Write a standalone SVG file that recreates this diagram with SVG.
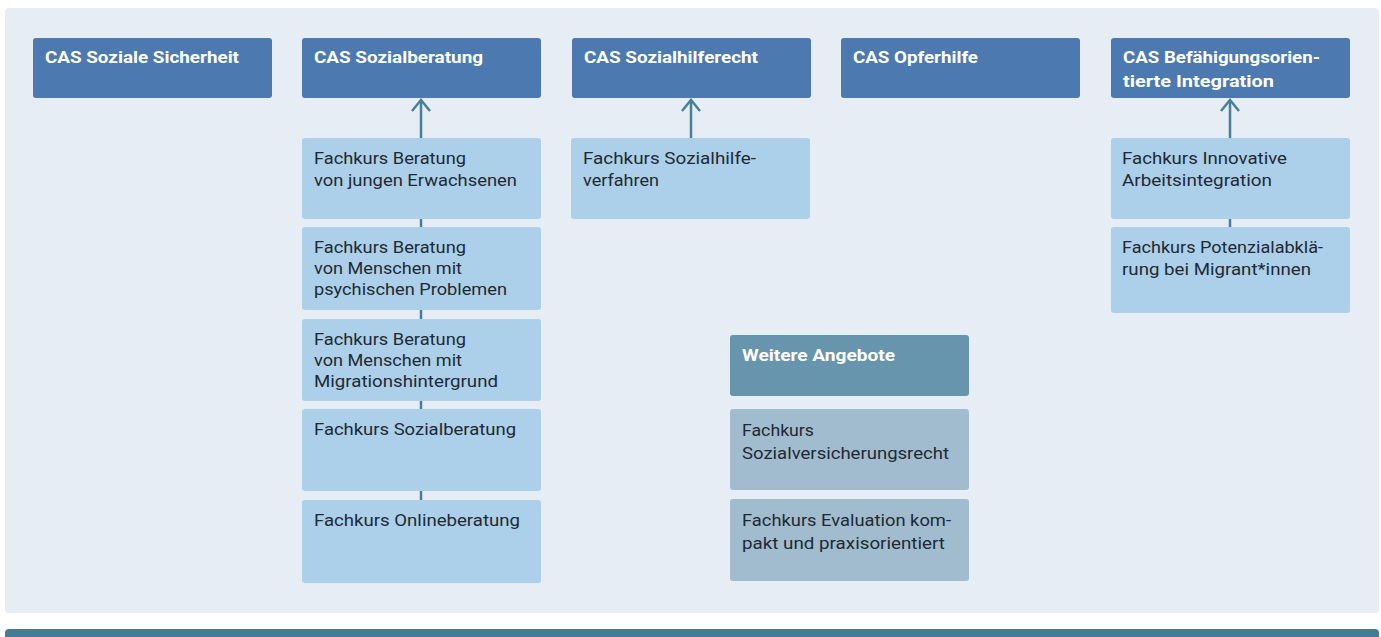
<svg xmlns="http://www.w3.org/2000/svg" width="1381" height="637" viewBox="0 0 1381 637">
<defs>
<style>
.panel{fill:#e6edf5}
.bar{fill:#467b94}
.cas{fill:#4c79b0}
.kurs{fill:#accfea}
.wh{fill:#6795ae}
.wk{fill:#a1bccf}
.ht{font-family:Roboto,"Noto Sans",sans-serif;font-size:17px;font-weight:bold;fill:#ffffff}
.kt{font-family:Roboto,"Noto Sans",sans-serif;font-size:17px;fill:#1f2a33}
.con{stroke:#47809a;stroke-width:2.5;fill:none}
</style>
<marker id="chev" viewBox="-12 -11 14 22" refX="0" refY="0" markerWidth="14" markerHeight="22" markerUnits="userSpaceOnUse" orient="auto">
<path d="M-11,-9 L0,0 L-11,9" fill="none" stroke="#47809a" stroke-width="2.5"/>
</marker>
</defs>
<rect class="panel" x="5" y="8" width="1374" height="605" rx="4"/>
<rect class="bar" x="5" y="629" width="1374" height="12" rx="4"/>

<g id="connectors">
<line class="con" x1="421" y1="138" x2="421" y2="100" marker-end="url(#chev)"/>
<line class="con" x1="691" y1="138" x2="691" y2="100" marker-end="url(#chev)"/>
<line class="con" x1="1230" y1="138" x2="1230" y2="100" marker-end="url(#chev)"/>
<line class="con" x1="421" y1="219" x2="421" y2="227"/>
<line class="con" x1="421" y1="310" x2="421" y2="319"/>
<line class="con" x1="421" y1="401" x2="421" y2="409"/>
<line class="con" x1="421" y1="491" x2="421" y2="500"/>
<line class="con" x1="1230" y1="219" x2="1230" y2="227"/>
</g>

<g id="cas-soziale-sicherheit">
<rect class="cas" x="33" y="38" width="239" height="60" rx="3"/>
<text class="ht" x="45" y="62.7" textLength="194" lengthAdjust="spacingAndGlyphs">CAS Soziale Sicherheit</text>
</g>
<g id="cas-sozialberatung">
<rect class="cas" x="302" y="38" width="239" height="60" rx="3"/>
<text class="ht" x="314" y="62.7" textLength="169" lengthAdjust="spacingAndGlyphs">CAS Sozialberatung</text>
</g>
<g id="cas-sozialhilferecht">
<rect class="cas" x="572" y="38" width="239" height="60" rx="3"/>
<text class="ht" x="584" y="62.7" textLength="174" lengthAdjust="spacingAndGlyphs">CAS Sozialhilferecht</text>
</g>
<g id="cas-opferhilfe">
<rect class="cas" x="841" y="38" width="239" height="60" rx="3"/>
<text class="ht" x="853" y="62.7" textLength="125" lengthAdjust="spacingAndGlyphs">CAS Opferhilfe</text>
</g>
<g id="cas-befaehigung">
<rect class="cas" x="1111" y="38" width="239" height="60" rx="3"/>
<text class="ht" x="1123" y="62.7" textLength="197" lengthAdjust="spacingAndGlyphs">CAS Befähigungsorien-</text>
<text class="ht" x="1123" y="86.7" textLength="151" lengthAdjust="spacingAndGlyphs">tierte Integration</text>
</g>

<g id="fk-junge-erwachsene">
<rect class="kurs" x="302" y="138" width="239" height="81" rx="3"/>
<text class="kt" x="314" y="164" textLength="152" lengthAdjust="spacingAndGlyphs">Fachkurs Beratung</text>
<text class="kt" x="314" y="185.5" textLength="203" lengthAdjust="spacingAndGlyphs">von jungen Erwachsenen</text>
</g>
<g id="fk-psychische-probleme">
<rect class="kurs" x="302" y="227" width="239" height="83" rx="3"/>
<text class="kt" x="314" y="252.7" textLength="152" lengthAdjust="spacingAndGlyphs">Fachkurs Beratung</text>
<text class="kt" x="314" y="274" textLength="148" lengthAdjust="spacingAndGlyphs">von Menschen mit</text>
<text class="kt" x="314" y="295.3" textLength="193" lengthAdjust="spacingAndGlyphs">psychischen Problemen</text>
</g>
<g id="fk-migrationshintergrund">
<rect class="kurs" x="302" y="319" width="239" height="82" rx="3"/>
<text class="kt" x="314" y="344.5" textLength="152" lengthAdjust="spacingAndGlyphs">Fachkurs Beratung</text>
<text class="kt" x="314" y="365.8" textLength="148" lengthAdjust="spacingAndGlyphs">von Menschen mit</text>
<text class="kt" x="314" y="387.1" textLength="184" lengthAdjust="spacingAndGlyphs">Migrationshintergrund</text>
</g>
<g id="fk-sozialberatung">
<rect class="kurs" x="302" y="409" width="239" height="82" rx="3"/>
<text class="kt" x="314" y="434.5" textLength="202" lengthAdjust="spacingAndGlyphs">Fachkurs Sozialberatung</text>
</g>
<g id="fk-onlineberatung">
<rect class="kurs" x="302" y="500" width="239" height="83" rx="3"/>
<text class="kt" x="314" y="525.5" textLength="206" lengthAdjust="spacingAndGlyphs">Fachkurs Onlineberatung</text>
</g>

<g id="fk-sozialhilfeverfahren">
<rect class="kurs" x="571" y="138" width="239" height="81" rx="3"/>
<text class="kt" x="583" y="164" textLength="173" lengthAdjust="spacingAndGlyphs">Fachkurs Sozialhilfe-</text>
<text class="kt" x="583" y="185.5" textLength="76" lengthAdjust="spacingAndGlyphs">verfahren</text>
</g>

<g id="fk-arbeitsintegration">
<rect class="kurs" x="1111" y="138" width="239" height="81" rx="3"/>
<text class="kt" x="1122" y="164" textLength="165" lengthAdjust="spacingAndGlyphs">Fachkurs Innovative</text>
<text class="kt" x="1122" y="185.5" textLength="150" lengthAdjust="spacingAndGlyphs">Arbeitsintegration</text>
</g>
<g id="fk-potenzialabklaerung">
<rect class="kurs" x="1111" y="227" width="239" height="86" rx="3"/>
<text class="kt" x="1122" y="252.5" textLength="201" lengthAdjust="spacingAndGlyphs">Fachkurs Potenzialabklä-</text>
<text class="kt" x="1122" y="274.5" textLength="189" lengthAdjust="spacingAndGlyphs">rung bei Migrant*innen</text>
</g>

<g id="weitere-angebote">
<rect class="wh" x="730" y="335" width="239" height="61" rx="3"/>
<text class="ht" x="742" y="360.5" textLength="153" lengthAdjust="spacingAndGlyphs">Weitere Angebote</text>
</g>
<g id="fk-sozialversicherungsrecht">
<rect class="wk" x="730" y="409" width="239" height="81" rx="3"/>
<text class="kt" x="742" y="435.5" textLength="72" lengthAdjust="spacingAndGlyphs">Fachkurs</text>
<text class="kt" x="742" y="458.5" textLength="207" lengthAdjust="spacingAndGlyphs">Sozialversicherungsrecht</text>
</g>
<g id="fk-evaluation">
<rect class="wk" x="730" y="499" width="239" height="82" rx="3"/>
<text class="kt" x="742" y="526" textLength="209" lengthAdjust="spacingAndGlyphs">Fachkurs Evaluation kom-</text>
<text class="kt" x="742" y="549" textLength="203" lengthAdjust="spacingAndGlyphs">pakt und praxisorientiert</text>
</g>
</svg>
